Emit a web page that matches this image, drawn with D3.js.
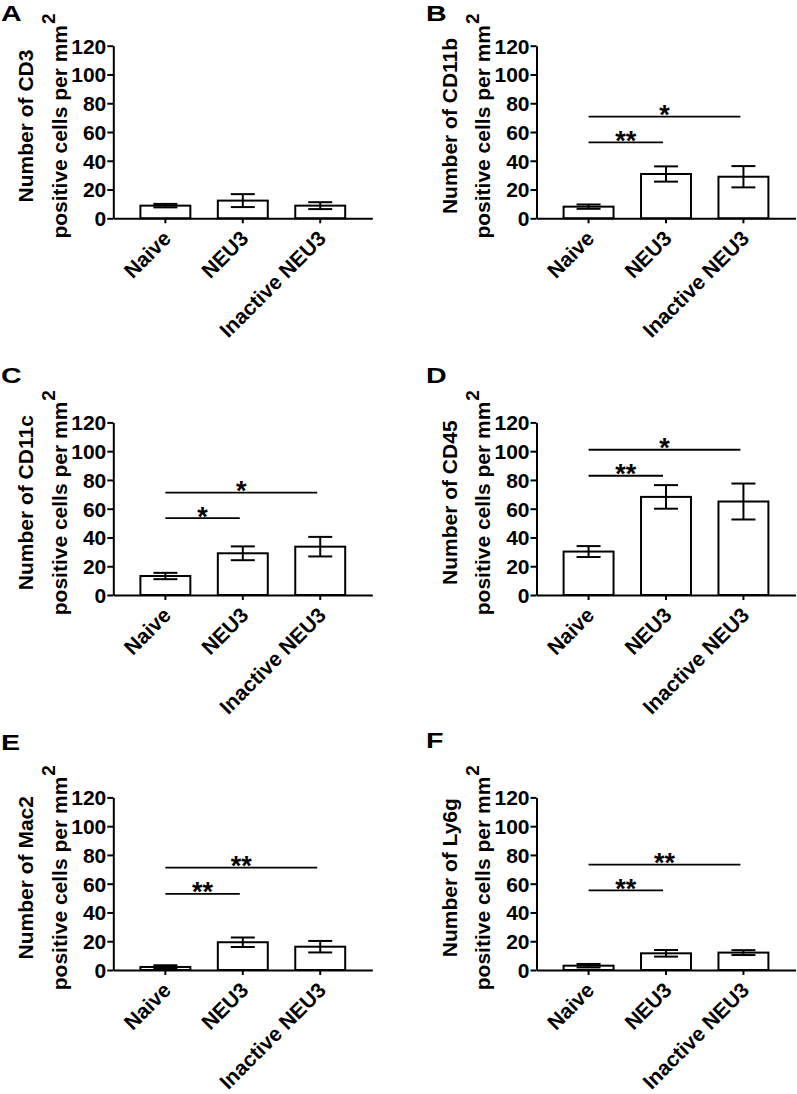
<!DOCTYPE html>
<html><head><meta charset="utf-8">
<script src="https://cdn.jsdelivr.net/npm/d3@7"></script>
<style>
html,body{margin:0;padding:0;background:#fff;}
text{font-family:"Liberation Sans",Arial,Helvetica,sans-serif;font-weight:bold;fill:#000;}
</style></head>
<body>
<svg id="fig" width="797" height="1094"></svg>
<script>
// ---------- data ----------
const categories = ["Naive", "NEU3", "Inactive NEU3"];
const panelLetters = ["A", "B", "C", "D", "E", "F"];
const markers = ["CD3", "CD11b", "CD11c", "CD45", "Mac2", "Ly6g"];
const yTicks = [0, 20, 40, 60, 80, 100, 120];

const meanCD3   = [8.8, 12.3, 8.8];
const semCD3    = [1.2, 4.5, 2.4];
const meanCD11b = [8.1, 30.8, 28.9];
const semCD11b  = [1.5, 5.3, 7.4];
const meanCD11c = [13.2, 29.0, 33.6];
const semCD11c  = [2.2, 4.8, 6.8];
const meanCD45  = [30.2, 68.2, 65.0];
const semCD45   = [3.8, 8.2, 12.5];
const meanMac2  = [2.1, 19.3, 16.2];
const semMac2   = [1.2, 3.3, 4.0];
const meanLy6g  = [3.0, 11.6, 12.1];
const semLy6g   = [1.2, 2.3, 1.7];

// significance brackets: [fromIndex, toIndex, yValue, label]
const sigCD3   = [];
const sigCD11b = [[0, 1, 52.8, "**"], [0, 2, 70.7, "*"]];
const sigCD11c = [[0, 1, 53.4, "*"],  [0, 2, 71.2, "*"]];
const sigCD45  = [[0, 1, 82.9, "**"], [0, 2, 101.0, "*"]];
const sigMac2  = [[0, 1, 52.9, "**"], [0, 2, 71.2, "**"]];
const sigLy6g  = [[0, 1, 55.4, "**"], [0, 2, 73.2, "**"]];

const means = [meanCD3, meanCD11b, meanCD11c, meanCD45, meanMac2, meanLy6g];
const sems  = [semCD3, semCD11b, semCD11c, semCD45, semMac2, semLy6g];
const sigs  = [sigCD3, sigCD11b, sigCD11c, sigCD45, sigMac2, sigLy6g];

// ---------- layout ----------
const colX = [113.3, 536.5];
const rowBase = [218.3, 595, 970];
const plotH = 172.6;
const axisW = 259;
const letterPos = [[1, 21], [426, 20.5], [1, 383], [426, 383], [1, 750], [426, 748]];

const svg = d3.select("#fig");

markers.forEach((m, i) => {
  const col = i % 2, row = Math.floor(i / 2);
  const ax = colX[col], base = rowBase[row];
  const g = svg.append("g").attr("transform", `translate(${ax},${base - plotH})`);

  const x = d3.scaleBand().domain(categories).range([0, axisW])
    .paddingInner(0.355).paddingOuter(0.35);
  const y = d3.scaleLinear().domain([0, 120]).range([plotH, 0]);

  const data = categories.map((c, k) => ({c, m: means[i][k], s: sems[i][k]}));

  // bars
  g.selectAll("rect.bar").data(data).enter().append("rect")
    .attr("class", "bar")
    .attr("x", d => x(d.c)).attr("width", x.bandwidth())
    .attr("y", d => y(d.m)).attr("height", d => y(0) - y(d.m))
    .attr("fill", "#fff").attr("stroke", "#000").attr("stroke-width", 2);

  // error bars
  const cap = 12;
  const cx = d => x(d.c) + x.bandwidth() / 2;
  const eb = g.selectAll("g.eb").data(data).enter().append("g").attr("class", "eb")
    .attr("stroke", "#000").attr("stroke-width", 2);
  eb.append("line").attr("x1", cx).attr("x2", cx)
    .attr("y1", d => y(d.m - d.s)).attr("y2", d => y(d.m + d.s));
  eb.append("line").attr("x1", d => cx(d) - cap).attr("x2", d => cx(d) + cap)
    .attr("y1", d => y(d.m + d.s)).attr("y2", d => y(d.m + d.s));
  eb.append("line").attr("x1", d => cx(d) - cap).attr("x2", d => cx(d) + cap)
    .attr("y1", d => y(d.m - d.s)).attr("y2", d => y(d.m - d.s));

  // y axis
  const yAx = g.append("g").call(d3.axisLeft(y).tickValues(yTicks).tickSize(6).tickSizeOuter(0).tickPadding(1));
  yAx.attr("font-family", null).attr("font-size", null);
  yAx.select(".domain").attr("stroke-width", 2);
  yAx.selectAll(".tick line").attr("stroke-width", 2);
  yAx.selectAll(".tick text").style("font-size", "21px").attr("dy", "0.35em");

  // x axis
  const xAx = g.append("g").attr("transform", `translate(0,${plotH})`)
    .call(d3.axisBottom(x).tickSize(5).tickSizeOuter(0));
  xAx.attr("font-family", null).attr("font-size", null);
  xAx.select(".domain").attr("stroke-width", 2);
  xAx.selectAll(".tick line").attr("stroke-width", 2);
  xAx.selectAll(".tick text")
    .style("font-size", "21px")
    .attr("text-anchor", "end")
    .attr("y", 0).attr("dy", 0)
    .attr("transform", "translate(7,21.5) rotate(-45)");

  // significance brackets
  sigs[i].forEach(s => {
    const x1 = x(categories[s[0]]) + x.bandwidth() / 2;
    const x2 = x(categories[s[1]]) + x.bandwidth() / 2 - 3;
    g.append("line").attr("x1", x1).attr("x2", x2)
      .attr("y1", y(s[2])).attr("y2", y(s[2]))
      .attr("stroke", "#000").attr("stroke-width", 1.8);
    g.append("text").attr("x", (x1 + x2) / 2).attr("y", y(s[2]) + 7.5)
      .attr("text-anchor", "middle").style("font-size", "27px").text(s[3]);
  });

  // y title
  const t = g.append("g").attr("transform", `translate(-80,${plotH / 2 - 6}) rotate(-90)`);
  t.append("text").attr("text-anchor", "middle").attr("x", 0).attr("y", 0)
    .style("font-size", "21px").text("Number of " + m);
  const t2 = t.append("text").attr("text-anchor", "middle").attr("x", 0).attr("y", 33.5)
    .style("font-size", "21px");
  t2.append("tspan").text("positive cells per mm");
  t2.append("tspan").attr("dx", 1).attr("dy", -11.5).style("font-size", "19px").text("2");

  // panel letter
  svg.append("text").attr("transform", `translate(${letterPos[i][0]},${letterPos[i][1]}) scale(1.3,1)`)
    .style("font-size", "22px").text(panelLetters[i]);
});
</script>
</body></html>
